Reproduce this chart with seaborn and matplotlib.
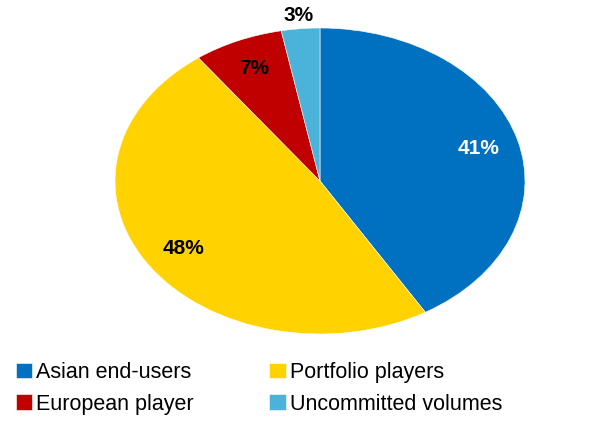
import numpy as np
import matplotlib
matplotlib.use("Agg")
import matplotlib.pyplot as plt
import seaborn as sns

labels = ["Asian end-users", "Portfolio players", "European player", "Uncommitted volumes"]
shares = [41, 48, 7, 3]
colors = ["#0070C0", "#FFD200", "#C00000", "#4BB3D9"]
pct_colors = ["white", "black", "black", "black"]

sns.set_style("white")
plt.rcParams["font.family"] = ["Liberation Sans", "DejaVu Sans"]

fig = plt.figure(figsize=(5.97, 4.22), dpi=100)
# pie is stretched horizontally in the reference, so the axes box is the ellipse box
ax = fig.add_axes([115 / 597, 88 / 422, 410 / 597, 306 / 422])
wedges, texts, autotexts = ax.pie(shares, colors=colors, startangle=90, counterclock=False,
                                  autopct=lambda p: "%d%%" % round(p * sum(shares) / 100),
                                  pctdistance=0.8, radius=1,
                                  wedgeprops=dict(linewidth=0.4, edgecolor="white"),
                                  textprops=dict(fontsize=15, fontweight="bold"))
ax.set_aspect("auto")
ax.set_xlim(-1, 1)
ax.set_ylim(-1, 1)
ax.axis("off")

for t, c in zip(autotexts, pct_colors):
    t.set_color(c)
# smallest slice label sits outside the pie
x, y = autotexts[3].get_position()
autotexts[3].set_position((x * 1.36, y * 1.36))

# legend fills by column, reorder so rows read Asian/Portfolio, European/Uncommitted
order = [0, 2, 1, 3]
fig.legend([wedges[i] for i in order], [labels[i] for i in order], loc="upper left",
           bbox_to_anchor=(16 / 597, 1 - 362 / 422), ncol=2, frameon=False, fontsize=15.5,
           labelcolor="black", handlelength=0.75, handleheight=0.75, handletextpad=0.2,
           columnspacing=3.5, labelspacing=0.5, borderpad=0, borderaxespad=0)

fig.savefig("out.png", dpi=100)
